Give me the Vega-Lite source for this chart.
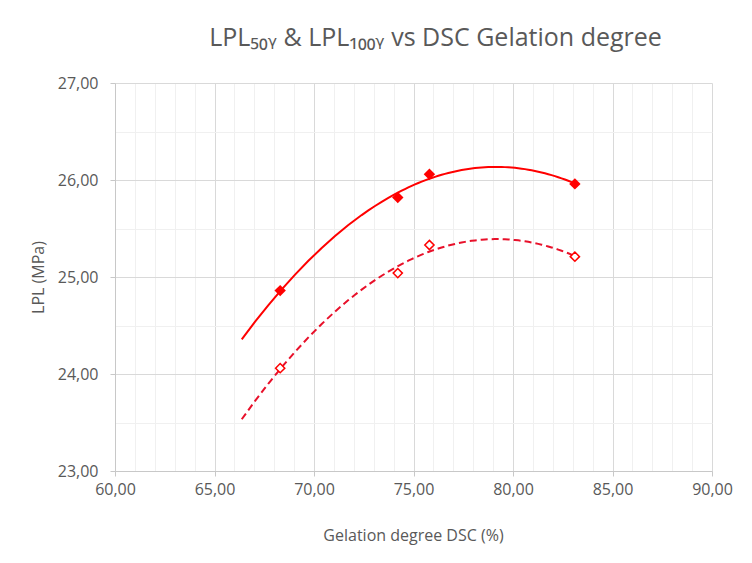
{
  "$schema": "https://vega.github.io/schema/vega-lite/v6.json",
  "width": 597,
  "height": 388,
  "autosize": {"type": "none"},
  "padding": {"left": 115, "top": 83, "right": 40, "bottom": 92},
  "background": "white",
  "config": {
    "locale": {"number": {"decimal": ",", "thousands": ".", "grouping": [3], "currency": ["", " €"]}},
    "view": {"stroke": null},
    "font": "Open Sans"
  },
  "title": {
    "text": "LPL₅₀ᵧ & LPL₁₀₀ᵧ vs DSC Gelation degree",
    "fontSize": 25,
    "font": "Open Sans, DejaVu Sans",
    "fontWeight": "normal",
    "color": "#595959",
    "offset": 24,
    "dx": 22
  },
  "data": {
    "values": [
      {"series": "LPL50y", "gel": 68.3, "lpl": 24.86},
      {"series": "LPL50y", "gel": 74.21, "lpl": 25.82},
      {"series": "LPL50y", "gel": 75.8, "lpl": 26.06},
      {"series": "LPL50y", "gel": 83.11, "lpl": 25.96},
      {"series": "LPL100y", "gel": 68.3, "lpl": 24.06},
      {"series": "LPL100y", "gel": 74.21, "lpl": 25.04},
      {"series": "LPL100y", "gel": 75.8, "lpl": 25.33},
      {"series": "LPL100y", "gel": 83.11, "lpl": 25.21}
    ]
  },
  "layer": [
    {
      "transform": [
        {"filter": "datum.series === 'LPL50y'"},
        {"regression": "lpl", "on": "gel", "method": "poly", "order": 2, "extent": [66.37, 83.11]}
      ],
      "mark": {"type": "line", "color": "#ff0000", "strokeWidth": 2},
      "encoding": {
        "x": {
          "field": "gel",
          "type": "quantitative",
          "scale": {"domain": [60, 90], "nice": false, "zero": false},
          "axis": {
            "title": "Gelation degree DSC (%)",
            "values": [60,61,62,63,64,65,66,67,68,69,70,71,72,73,74,75,76,77,78,79,80,81,82,83,84,85,86,87,88,89,90],
            "tickCount": 200,
            "format": ".2f",
            "labelExpr": "datum.value % 5 === 0 ? datum.label : ''",
            "labelOverlap": false,
            "labelFlush": false,
            "grid": true,
            "gridColor": {"condition": {"test": "datum.value % 5 === 0", "value": "#d9d9d9"}, "value": "#f0f0f0"},
            "gridWidth": 1,
            "domainColor": "#c8c8c8",
            "tickColor": "#c8c8c8",
            "tickOpacity": {"condition": {"test": "datum.value % 5 === 0", "value": 1}, "value": 0},
            "tickSize": 5,
            "labelFontSize": 16,
            "labelColor": "#595959",
            "labelPadding": 5,
            "titleFontSize": 16,
            "titleColor": "#595959",
            "titleFontWeight": "normal",
            "titleX": 298,
            "titleY": 64,
            "titleBaseline": "middle"
          }
        },
        "y": {
          "field": "lpl",
          "type": "quantitative",
          "scale": {"domain": [23, 27], "nice": false, "zero": false},
          "axis": {
            "title": "LPL (MPa)",
            "values": [23, 23.5, 24, 24.5, 25, 25.5, 26, 26.5, 27],
            "tickCount": 200,
            "format": ".2f",
            "labelExpr": "datum.value % 1 === 0 ? datum.label : ''",
            "labelOverlap": false,
            "labelFlush": false,
            "grid": true,
            "gridColor": {"condition": {"test": "datum.value % 1 === 0", "value": "#d9d9d9"}, "value": "#f0f0f0"},
            "gridWidth": 1,
            "domainColor": "#c8c8c8",
            "tickColor": "#c8c8c8",
            "tickOpacity": {"condition": {"test": "datum.value % 1 === 0", "value": 1}, "value": 0},
            "tickSize": 5,
            "labelFontSize": 16,
            "labelColor": "#595959",
            "labelPadding": 12,
            "titleFontSize": 16,
            "titleColor": "#595959",
            "titleFontWeight": "normal",
            "titleX": -77,
            "titleY": 194,
            "titleBaseline": "middle"
          }
        }
      }
    },
    {
      "transform": [
        {"filter": "datum.series === 'LPL100y'"},
        {"regression": "lpl", "on": "gel", "method": "poly", "order": 2, "extent": [66.37, 83.11]}
      ],
      "mark": {"type": "line", "color": "#e8102a", "strokeWidth": 2, "strokeDash": [7, 4]},
      "encoding": {
        "x": {"field": "gel", "type": "quantitative"},
        "y": {"field": "lpl", "type": "quantitative"}
      }
    },
    {
      "transform": [{"filter": "datum.series === 'LPL50y'"}],
      "mark": {"type": "point", "shape": "diamond", "filled": true, "color": "#ff0000", "size": 130, "opacity": 1},
      "encoding": {
        "x": {"field": "gel", "type": "quantitative"},
        "y": {"field": "lpl", "type": "quantitative"}
      }
    },
    {
      "transform": [{"filter": "datum.series === 'LPL100y'"}],
      "mark": {"type": "point", "shape": "diamond", "filled": false, "fill": "white", "fillOpacity": 1, "stroke": "#ff0000", "strokeWidth": 1.5, "size": 85, "opacity": 1},
      "encoding": {
        "x": {"field": "gel", "type": "quantitative"},
        "y": {"field": "lpl", "type": "quantitative"}
      }
    }
  ]
}
